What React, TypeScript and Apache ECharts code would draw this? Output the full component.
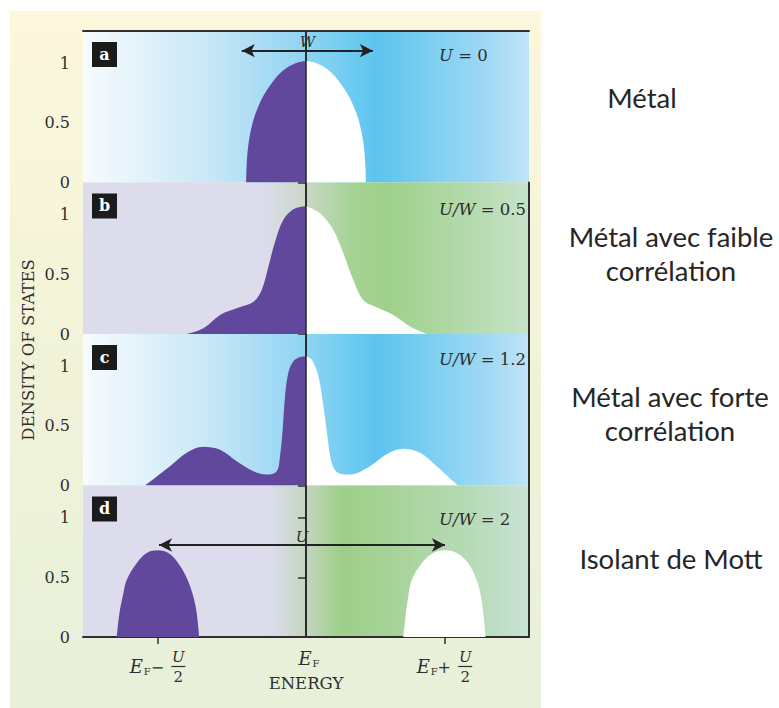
import React, { useEffect, useRef } from "react";
import * as echarts from "echarts";

// ---------- data (energy in arbitrary units, E_F = 0; density of states) ----------
const X_MIN = -1.5;
const X_MAX = 1.5;
const Y_TICKS = [0, 0.5, 1];
const Y_TICK_LABELS = ["0", "0.5", "1"];
const X_TICK_VALUES = [-1, 0, 0.93]; // E_F - U/2, E_F, E_F + U/2
const PANEL_LETTERS = ["a", "b", "c", "d"];
const PANEL_PARAM_NAMES = ["U", "U/W", "U/W", "U/W"];
const PANEL_PARAM_VALUES = [" = 0", " = 0.5", " = 1.2", " = 2"];
const DESCRIPTIONS = ["Métal", "Métal avec faible\ncorrélation", "Métal avec forte\ncorrélation", "Isolant de Mott"];
const EF_LINE_TOP = [1.06, 1.23, 1.23, 0.71];
const W_ARROW_X = [-0.432, 0.45];
const W_ARROW_Y = 1.108;
const U_ARROW_X = [-0.989, 0.935];
const U_ARROW_Y = 0.773;

const A_FILLED = [[-0.403, 0], [-0.399, 0.15], [-0.392, 0.27], [-0.38, 0.38], [-0.365, 0.47], [-0.345, 0.56], [-0.32, 0.64], [-0.29, 0.72], [-0.25, 0.8], [-0.2, 0.885], [-0.15, 0.945], [-0.1, 0.985], [-0.05, 1.01], [0, 1.02]];
const A_EMPTY = [[0, 1.02], [0.05, 1.01], [0.1, 0.985], [0.15, 0.945], [0.2, 0.885], [0.25, 0.8], [0.29, 0.72], [0.32, 0.64], [0.345, 0.56], [0.365, 0.47], [0.38, 0.38], [0.392, 0.27], [0.399, 0.15], [0.403, 0]];

const B_FILLED = [[-0.802, 0], [-0.69, 0.048], [-0.578, 0.16], [-0.466, 0.216], [-0.354, 0.27], [-0.298, 0.37], [-0.253, 0.566], [-0.208, 0.776], [-0.153, 0.958], [-0.085, 1.048], [0, 1.076]];
const B_EMPTY = [[0, 1.076], [0.094, 1.014], [0.184, 0.874], [0.251, 0.678], [0.318, 0.454], [0.385, 0.286], [0.475, 0.224], [0.587, 0.16], [0.7, 0.062], [0.81, 0]];

const C_FILLED = [[-1.083, 0], [-0.915, 0.162], [-0.802, 0.275], [-0.69, 0.325], [-0.578, 0.3], [-0.466, 0.204], [-0.354, 0.12], [-0.264, 0.092], [-0.197, 0.12], [-0.175, 0.246], [-0.157, 0.47], [-0.141, 0.75], [-0.119, 0.947], [-0.085, 1.045], [-0.04, 1.08], [0, 1.087]];
const C_EMPTY = [[0, 1.087], [0.038, 1.06], [0.083, 0.92], [0.117, 0.667], [0.144, 0.415], [0.173, 0.19], [0.217, 0.106], [0.296, 0.092], [0.43, 0.162], [0.54, 0.26], [0.654, 0.308], [0.767, 0.275], [0.879, 0.162], [0.99, 0.036], [1.024, 0]];

const D_FILLED = [[-1.273, 0], [-1.255, 0.2], [-1.233, 0.34], [-1.206, 0.48], [-1.139, 0.62], [-1.071, 0.706], [-0.997, 0.728], [-0.926, 0.706], [-0.859, 0.62], [-0.796, 0.48], [-0.758, 0.34], [-0.735, 0.2], [-0.718, 0]];
const D_EMPTY = [[0.655, 0], [0.672, 0.2], [0.688, 0.34], [0.711, 0.48], [0.778, 0.62], [0.856, 0.706], [0.935, 0.728], [1.013, 0.706], [1.091, 0.62], [1.148, 0.48], [1.177, 0.34], [1.193, 0.2], [1.208, 0]];

const FILLED = [A_FILLED, B_FILLED, C_FILLED, D_FILLED];
const EMPTY = [A_EMPTY, B_EMPTY, C_EMPTY, D_EMPTY];

// ---------- layout / style ----------
const SERIF = "DejaVu Serif";
const INK = "#2e2e2e";
const PURPLE = "#62489c";
const GRID_LEFT = 83;
const GRID_WIDTH = 446;
const GRID_TOPS = [31, 182.5, 334, 485.5];
const GRID_HEIGHT = 151.5;
const Y_MAX = 1.273;
const PARAM_Y = [55, 209, 359, 519];
const DESC_POS = [[642, 97, 34], [671, 253.5, 33.5], [670, 413, 34], [671, 558, 34]];

const stops = (arr: [number, string][]) => arr.map(([offset, color]) => ({ offset, color }));
const BLUE_BG = stops([[0, "#f6fbfe"], [0.15, "#def1fa"], [0.26, "#cde9f7"], [0.35, "#b6e1f6"], [0.45, "#9cd8f4"], [0.55, "#7fd0f2"], [0.66, "#5cc4ef"], [0.76, "#78cdf1"], [0.89, "#9bd7f4"], [1, "#bfe4f6"]]);
const GREEN_B_BG = stops([[0, "#dcdcec"], [0.4, "#dcdcec"], [0.5, "#c9d8c6"], [0.6, "#a6d395"], [0.68, "#9ed08b"], [0.85, "#b3d9aa"], [1, "#c6e3c8"]]);
const GREEN_D_BG = stops([[0, "#dcdcec"], [0.42, "#dcdcec"], [0.5, "#c3d6bf"], [0.58, "#9ecf88"], [0.7, "#a7d39a"], [0.87, "#b7dbb6"], [1, "#c8e3d6"]]);
const BG = [BLUE_BG, GREEN_B_BG, BLUE_BG, GREEN_D_BG];

function buildOption() {
  const grid = GRID_TOPS.map((top, i) => ({
    left: GRID_LEFT,
    width: GRID_WIDTH,
    top,
    height: GRID_HEIGHT,
    show: true,
    borderWidth: 0,
    backgroundColor: new echarts.graphic.LinearGradient(0, 0, 1, 0, BG[i]),
    outerBoundsMode: "none",
  }));
  const xAxis: any[] = GRID_TOPS.map((_, i) => ({
    type: "value",
    gridIndex: i,
    min: X_MIN,
    max: X_MAX,
    show: i === 3,
    splitLine: { show: false },
    axisLine: { show: true, onZero: false, lineStyle: { color: INK, width: 2 } },
    axisTick: { show: true, customValues: [X_TICK_VALUES[0], X_TICK_VALUES[2]], length: 7, lineStyle: { color: INK, width: 1.5 } },
    axisLabel: { show: false },
  }));
  xAxis.push({
    type: "value", gridIndex: 0, min: X_MIN, max: X_MAX, position: "top",
    splitLine: { show: false }, axisTick: { show: false }, axisLabel: { show: false },
    axisLine: { show: true, onZero: false, lineStyle: { color: INK, width: 2 } },
  });
  const yAxis: any[] = GRID_TOPS.map((_, i) => ({
    type: "value",
    gridIndex: i,
    min: 0,
    max: Y_MAX,
    splitLine: { show: false },
    axisLine: { show: true, lineStyle: { color: INK, width: 2 } },
    axisTick: { show: true, customValues: Y_TICKS, length: 8, lineStyle: { color: INK, width: 1.5 } },
    axisLabel: {
      customValues: Y_TICKS,
      formatter: (v: number) => Y_TICK_LABELS[Y_TICKS.indexOf(v)] ?? "",
      fontFamily: SERIF, fontSize: 16, color: INK, margin: 13,
    },
  }));
  GRID_TOPS.forEach((_, i) => yAxis.push({
    type: "value", gridIndex: i, min: 0, max: Y_MAX, position: "right",
    splitLine: { show: false }, axisTick: { show: false }, axisLabel: { show: false },
    axisLine: { show: true, lineStyle: { color: INK, width: 2 } },
  }));

  const series: any[] = [];
  GRID_TOPS.forEach((_, i) => {
    const common = {
      type: "line", xAxisIndex: i, yAxisIndex: i, smooth: 0.35,
      showSymbol: false, symbol: "none", lineStyle: { width: 0 }, silent: true,
    };
    series.push({ ...common, name: `filled-${PANEL_LETTERS[i]}`, data: FILLED[i], areaStyle: { color: PURPLE, opacity: 1 }, z: 3 });
    series.push({ ...common, name: `empty-${PANEL_LETTERS[i]}`, data: EMPTY[i], areaStyle: { color: "#ffffff", opacity: 1 }, z: 3 });
    series.push({
      type: "line", xAxisIndex: i, yAxisIndex: i, data: [], z: 5, silent: true,
      markLine: {
        silent: true, symbol: ["none", "none"], label: { show: false },
        lineStyle: { color: INK, width: 1.6, type: "solid" },
        data: [[{ coord: [0, 0] }, { coord: [0, EF_LINE_TOP[i]] }]],
      },
    });
  });
  const arrow = (i: number, xs: number[], y: number, name: string) => ({
    type: "line", xAxisIndex: i, yAxisIndex: i, data: [], z: 6, silent: true,
    markLine: {
      silent: true, symbol: ["arrow", "arrow"], symbolSize: [10, 13],
      lineStyle: { color: "#222", width: 2, type: "solid" },
      label: { show: true, position: "insideMiddleTop", formatter: name, fontFamily: SERIF, fontStyle: "italic", fontSize: 15, color: INK, distance: 1 },
      data: [[{ coord: [xs[0], y] }, { coord: [xs[1], y] }]],
    },
  });
  series.push(arrow(0, W_ARROW_X, W_ARROW_Y, "W"));
  series.push(arrow(3, U_ARROW_X, U_ARROW_Y, "U"));

  return { animation: false, grid, xAxis, yAxis, series };
}

function buildGraphic(chart: echarts.ECharts) {
  const els: any[] = [];
  els.push({
    type: "rect", z: -10, silent: true,
    shape: { x: 10, y: 11, width: 531, height: 697 },
    style: { fill: new echarts.graphic.LinearGradient(0, 0, 0, 1, stops([[0, "#fdf7dc"], [0.5, "#f1f3d8"], [1, "#e8f0da"]])) },
  });
  // panel letters and parameters
  GRID_TOPS.forEach((top, i) => {
    const by = top + 11;
    els.push({ type: "rect", z: 50, shape: { x: 92, y: by, width: 25, height: 25 }, style: { fill: "#1b1b1b" } });
    els.push({
      type: "text", z: 51, x: 104.5, y: by + 12,
      style: { text: PANEL_LETTERS[i], fill: "#ffffff", font: `bold 16px '${SERIF}'`, align: "center", verticalAlign: "middle", textAlign: "center", textVerticalAlign: "middle" },
    });
    els.push({
      type: "text", z: 51, x: 439, y: PARAM_Y[i],
      style: {
        text: `{i|${PANEL_PARAM_NAMES[i]}}{n|${PANEL_PARAM_VALUES[i]}}`,
        verticalAlign: "middle", textVerticalAlign: "middle",
        rich: {
          i: { fontFamily: SERIF, fontStyle: "italic", fontSize: 16.5, fill: INK, color: INK },
          n: { fontFamily: SERIF, fontSize: 16.5, fill: INK, color: INK },
        },
      },
    });
  });
  // axis title
  els.push({
    type: "text", z: 51, x: 28, y: 350, rotation: Math.PI / 2,
    style: { text: "DENSITY OF STATES", fill: INK, font: `16.5px '${SERIF}'`, align: "center", verticalAlign: "middle", textAlign: "center", textVerticalAlign: "middle" },
  });
  // x tick labels
  const yb = chart.convertToPixel({ yAxisIndex: 3 } as any, 0) as number;
  const txt = (x: number, y: number, text: string, font: string) => ({
    type: "text", z: 51, x, y,
    style: { text, fill: INK, font, align: "center", verticalAlign: "middle", textAlign: "center", textVerticalAlign: "middle" },
  });
  [0, 2].forEach((k) => {
    const xm = chart.convertToPixel({ xAxisIndex: 3 } as any, X_TICK_VALUES[k]) as number;
    els.push(txt(xm - 21, yb + 29, "E", `italic 18px '${SERIF}'`));
    els.push(txt(xm - 10, yb + 34, "F", `10px '${SERIF}'`));
    els.push(txt(xm, yb + 30, k === 0 ? "−" : "+", `16px '${SERIF}'`));
    els.push(txt(xm + 21, yb + 20, "U", `italic 15px '${SERIF}'`));
    els.push({ type: "line", z: 51, shape: { x1: xm + 14, y1: yb + 29.5, x2: xm + 28, y2: yb + 29.5 }, style: { stroke: INK, lineWidth: 1.2 } });
    els.push(txt(xm + 21, yb + 39.5, "2", `15px '${SERIF}'`));
  });
  const x0 = chart.convertToPixel({ xAxisIndex: 3 } as any, X_TICK_VALUES[1]) as number;
  els.push(txt(x0 - 1, yb + 21, "E", `italic 18px '${SERIF}'`));
  els.push(txt(x0 + 10, yb + 26, "F", `10px '${SERIF}'`));
  els.push(txt(x0, yb + 46, "ENERGY", `16.5px '${SERIF}'`));
  // right-hand descriptions
  DESCRIPTIONS.forEach((d, i) => {
    const [x, y, lh] = DESC_POS[i];
    els.push({
      type: "text", z: 51, x, y,
      style: { text: d, fill: "#262626", fontFamily: "Lato", fontSize: 27.5, lineHeight: lh, align: "center", verticalAlign: "middle", textAlign: "center", textVerticalAlign: "middle" },
    });
  });
  return els;
}

export default function App() {
  const ref = useRef<HTMLDivElement>(null);
  useEffect(() => {
    document.body.style.margin = "0";
    if (!ref.current) return;
    const chart = echarts.init(ref.current, undefined, { renderer: "svg" });
    chart.setOption(buildOption() as any);
    chart.setOption({ graphic: { elements: buildGraphic(chart) } } as any);
    return () => chart.dispose();
  }, []);
  return <div ref={ref} style={{ width: 779, height: 708, background: "#ffffff" }} />;
}
